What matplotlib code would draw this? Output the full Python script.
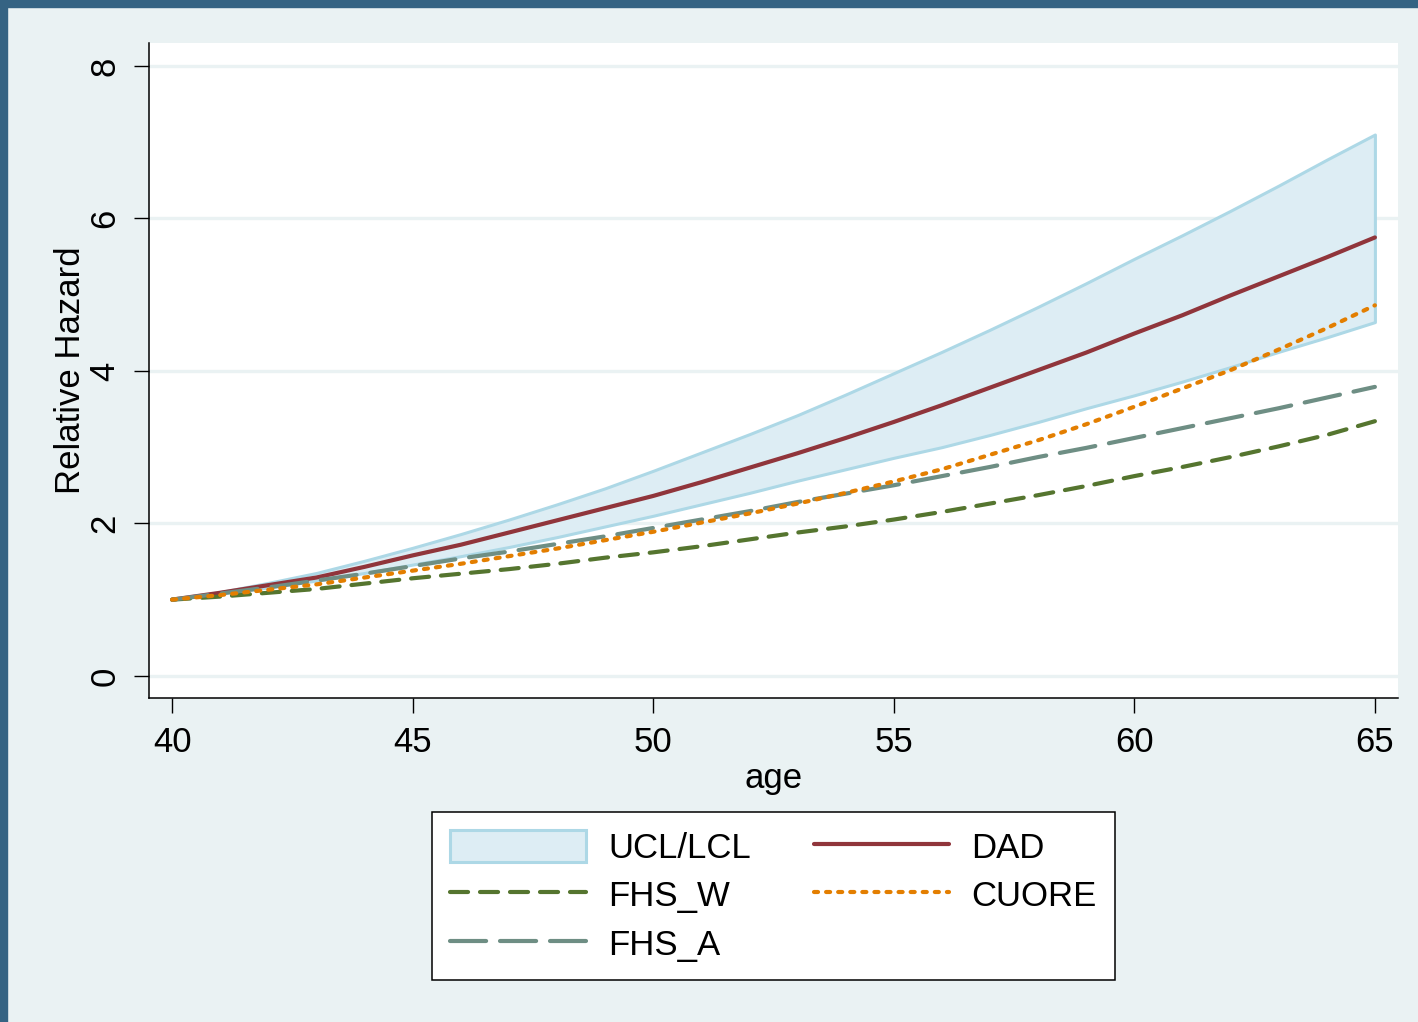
import matplotlib
matplotlib.use("Agg")
import matplotlib.pyplot as plt
from matplotlib.patches import Rectangle

plt.rcParams["font.family"] = ["Liberation Sans", "DejaVu Sans"]
plt.rcParams["lines.scale_dashes"] = False

# ── Data ──────────────────────────────────────────────────────────────────────
age = list(range(40, 66))

ucl = [1.00, 1.10, 1.22, 1.35, 1.51, 1.68, 1.86, 2.05, 2.25, 2.46, 2.69, 2.93, 3.17,
       3.42, 3.69, 3.97, 4.25, 4.54, 4.84, 5.15, 5.47, 5.78, 6.10, 6.43, 6.77, 7.10]
lcl = [1.00, 1.08, 1.16, 1.25, 1.35, 1.46, 1.57, 1.69, 1.82, 1.96, 2.10, 2.25, 2.40,
       2.56, 2.71, 2.86, 3.00, 3.16, 3.33, 3.51, 3.68, 3.86, 4.05, 4.25, 4.44, 4.64]
dad = [1.00, 1.09, 1.19, 1.29, 1.43, 1.58, 1.72, 1.88, 2.04, 2.20, 2.36, 2.54, 2.73,
       2.92, 3.12, 3.33, 3.55, 3.78, 4.01, 4.24, 4.49, 4.73, 4.99, 5.24, 5.49, 5.75]
fhs_w = [1.00, 1.04, 1.09, 1.14, 1.21, 1.28, 1.34, 1.40, 1.47, 1.55, 1.62, 1.70, 1.79,
         1.88, 1.96, 2.05, 2.15, 2.26, 2.37, 2.49, 2.62, 2.74, 2.87, 3.01, 3.16, 3.34]
cuore = [1.00, 1.06, 1.13, 1.20, 1.29, 1.38, 1.47, 1.57, 1.67, 1.78, 1.89, 2.01, 2.13,
         2.26, 2.40, 2.55, 2.71, 2.90, 3.09, 3.30, 3.53, 3.77, 4.01, 4.28, 4.56, 4.86]
fhs_a = [1.00, 1.08, 1.16, 1.25, 1.34, 1.44, 1.54, 1.63, 1.73, 1.83, 1.94, 2.05, 2.16,
         2.28, 2.39, 2.50, 2.62, 2.74, 2.87, 2.99, 3.12, 3.25, 3.38, 3.51, 3.65, 3.79]

x_ticks = [40, 45, 50, 55, 60, 65]
y_ticks = [0, 2, 4, 6, 8]

BG      = "#EAF2F3"
BORDER  = "#356383"
CI_FILL = "#DDEDF4"
CI_EDGE = "#ADD8E6"

W, H = 1418, 1022
fig = plt.figure(figsize=(W / 100, H / 100), dpi=100, facecolor=BG)

# dark frame on top and left edge
fig.patches.append(Rectangle((0, 1 - 7 / H), 1, 7 / H, transform=fig.transFigure,
                             color=BORDER, zorder=0))
fig.patches.append(Rectangle((0, 0), 7 / W, 1, transform=fig.transFigure,
                             color=BORDER, zorder=0))

ax = fig.add_axes([149 / W, 1 - 698 / H, (1398 - 149) / W, (698 - 43) / H])
ax.set_facecolor("white")

ci = ax.fill_between(age, lcl, ucl, facecolor=CI_FILL, edgecolor=CI_EDGE,
                     linewidth=2.2, label="UCL/LCL", zorder=2)
l_dad, = ax.plot(age, dad, color="#90353B", lw=3.0, label="DAD", zorder=3,
                 solid_capstyle="round")
l_fw, = ax.plot(age, fhs_w, color="#55752F", lw=3.0, label="FHS_W", zorder=3,
                dashes=(13, 8.6), dash_capstyle="round")
l_cu, = ax.plot(age, cuore, color="#E37E00", lw=3.0, label="CUORE", zorder=4,
                dashes=(2.9, 5.8), dash_capstyle="round")
l_fa, = ax.plot(age, fhs_a, color="#6E8E84", lw=3.0, label="FHS_A", zorder=3,
                dashes=(26, 10), dash_capstyle="round")

ax.set_xlim(39.52, 65.48)
ax.set_ylim(-0.29, 8.30)
ax.set_xticks(x_ticks)
ax.set_yticks(y_ticks)
ax.set_yticklabels([str(v) for v in y_ticks], rotation=90, va="center")

ax.grid(axis="y", color=BG, lw=2.4, zorder=1)
ax.set_axisbelow(True)
for s in ["top", "right"]:
    ax.spines[s].set_visible(False)
for s in ["left", "bottom"]:
    ax.spines[s].set_linewidth(1.1)
    ax.spines[s].set_color("black")
ax.tick_params(axis="both", direction="out", length=11, width=1.0,
               labelsize=25, pad=9)

ax.set_xlabel("age", fontsize=25, labelpad=2)
ax.set_ylabel("Relative Hazard", fontsize=25, labelpad=1)

leg = fig.legend(handles=[ci, l_fw, l_fa, l_dad, l_cu], ncol=2,
                 loc="center", bbox_to_anchor=(773.5 / W, 1 - 896 / H),
                 fontsize=25, frameon=True, fancybox=False, framealpha=1,
                 edgecolor="black", handlelength=3.9, handleheight=1.05,
                 handletextpad=0.65, columnspacing=1.8, labelspacing=0.40,
                 borderpad=0.52, borderaxespad=0)
leg.get_frame().set_linewidth(1.1)

fig.savefig("out.png", dpi=100, facecolor=BG)
